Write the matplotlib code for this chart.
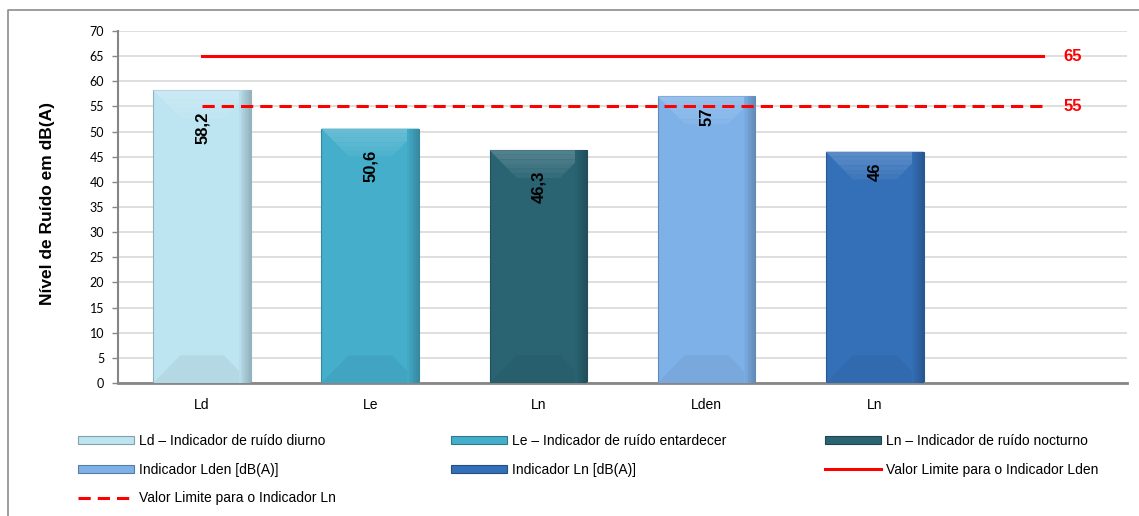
"""Noise level indicators vs. limit values (bar chart with bevelled bars)."""

import matplotlib
matplotlib.use("Agg")
from matplotlib import pyplot as plt
from matplotlib.patches import Patch, Polygon
from matplotlib.lines import Line2D
import matplotlib.colors as mcolors

plt.rcParams["font.family"] = ["Liberation Sans", "DejaVu Sans"]

# ---- data ----
categories = ["Ld", "Le", "Ln", "Lden", "Ln", ""]
values = [58.2, 50.6, 46.3, 57, 46]
value_labels = ["58,2", "50,6", "46,3", "57", "46"]
bar_colors = ["#bde4f1", "#44aecb", "#2a6473", "#7eb1e8", "#3470b8"]
bar_names = [
    "Ld \u2013 Indicador de ruído diurno",
    "Le \u2013 Indicador de ruído entardecer",
    "Ln \u2013 Indicador de ruído nocturno",
    "Indicador Lden [dB(A)]",
    "Indicador Ln [dB(A)]",
]
lden_limit = [65, 65, 65, 65, 65, 65]
ln_limit = [55, 55, 55, 55, 55, 55]
lden_limit_name = "Valor Limite para o Indicador Lden"
ln_limit_name = "Valor Limite para o Indicador Ln"

GRID = "#d9d9d9"
AXIS = "#868686"
RED = "#ff0000"
W, H = 1139, 516


def shade(color, f):
    """f > 0 lightens towards white, f < 0 darkens towards black."""
    r, g, b = mcolors.to_rgb(color)
    if f >= 0:
        return (r + (1 - r) * f, g + (1 - g) * f, b + (1 - b) * f)
    return (r * (1 + f), g * (1 + f), b * (1 + f))


def bevel(ax, x, w, h, color):
    """Paint top/bottom facets and a dark right edge over one bar."""
    left, right = x - w / 2, x + w / 2
    dx, dy = 0.16, min(5.5, h / 2)
    # top facet: a few bands, lighter towards the top edge
    n = 6
    for k in range(n):
        y0 = h - dy * k / n
        y1 = h - dy * (k + 1) / n
        x0 = dx * k / n
        x1 = dx * (k + 1) / n
        band = [(left + x0, y0), (right - x0, y0),
                (right - x1, y1), (left + x1, y1)]
        ax.add_patch(Polygon(band, closed=True, lw=0, zorder=3,
                             facecolor=shade(color, 0.16 * (1 - k / n) + 0.03)))
    bot = [(left, 0), (right, 0), (right - dx, dy), (left + dx, dy)]
    ax.add_patch(Polygon(bot, closed=True, facecolor=shade(color, -0.05),
                         lw=0, zorder=3))
    # darker strip along the right edge
    n = 8
    strip = 0.07
    for k in range(n):
        x0 = right - strip + strip * k / n
        ax.fill_between([x0, x0 + strip / n], 0, h,
                        color=shade(color, -0.03 - 0.2 * k / n),
                        lw=0, zorder=3.1)


fig = plt.figure(figsize=(W / 100, H / 100), dpi=100)
ax = fig.add_axes([118 / W, 1 - 383 / H, 1009 / W, 352 / H])

x = list(range(len(values)))
bar_w = 0.58
ax.bar(x, values, width=bar_w, color=bar_colors, zorder=2,
       edgecolor=[shade(c, -0.22) for c in bar_colors], linewidth=0.8)
for xi, v, c in zip(x, values, bar_colors):
    bevel(ax, xi, bar_w, v, c)

# value labels, rotated, just inside the bar top
for xi, v, lab in zip(x, values, value_labels):
    off = -15 if "," in lab else -8
    ax.annotate(lab, (xi, v), xytext=(0, off), textcoords="offset points",
                rotation=90, ha="center", va="top", fontsize=12,
                fontweight="bold", color="black", zorder=6)

# limit lines across all category slots
xl = list(range(len(lden_limit)))
ax.plot(xl, lden_limit, color=RED, lw=2.2, zorder=5)
ax.plot(xl, ln_limit, color=RED, lw=2.2, ls=(0, (4, 2.3)), zorder=5)
ax.annotate(str(lden_limit[-1]), (xl[-1], lden_limit[-1]), xytext=(15, 0),
            textcoords="offset points", va="center", ha="left",
            fontsize=12, fontweight="bold", color=RED)
ax.annotate(str(ln_limit[-1]), (xl[-1], ln_limit[-1]), xytext=(15, 0),
            textcoords="offset points", va="center", ha="left",
            fontsize=12, fontweight="bold", color=RED)

ax.set_xlim(-0.5, len(categories) - 0.5)
ax.set_ylim(0, 70)
ax.set_yticks(range(0, 71, 5))
ax.set_xticks(range(len(categories)))
ax.set_xticklabels(categories, fontsize=10)
ax.tick_params(axis="x", length=0, pad=11)
ax.tick_params(axis="y", length=4, width=1, color=AXIS, pad=6,
               labelsize=9)
for t in ax.get_yticklabels():
    t.set_family(["Lato", "DejaVu Sans"])

ax.grid(axis="y", color=GRID, lw=1.2, zorder=0)
ax.set_axisbelow(True)
for s in ("top", "right"):
    ax.spines[s].set_visible(False)
ax.spines["left"].set_color(AXIS)
ax.spines["bottom"].set_color(AXIS)
ax.spines["left"].set_linewidth(1.5)
ax.spines["bottom"].set_linewidth(2)

ax.set_ylabel("Nível de Ruído em dB(A)", fontsize=12.5, fontweight="bold")
ax.yaxis.set_label_coords(-63 / 1009, 0.51)

# legend laid out as three columns, filled row by row
bar_handles = [Patch(facecolor=c, edgecolor=shade(c, -0.3), lw=0.8)
               for c in bar_colors]
lden_h = Line2D([], [], color=RED, lw=2.2)
ln_h = Line2D([], [], color=RED, lw=2.2, ls=(0, (4, 2.3)))
columns = [
    ([bar_handles[0], bar_handles[3], ln_h],
     [bar_names[0], bar_names[3], ln_limit_name], 78),
    ([bar_handles[1], bar_handles[4]], [bar_names[1], bar_names[4]], 451),
    ([bar_handles[2], lden_h], [bar_names[2], lden_limit_name], 825),
]
for hs, ls, x0 in columns:
    fig.legend(hs, ls, loc="upper left", bbox_to_anchor=(x0 / W, 1 - 434 / H),
               frameon=False, fontsize=10, handlelength=4.0,
               handleheight=0.5, handletextpad=0.4, labelspacing=1.05,
               borderpad=0, borderaxespad=0)

# outer chart frame
fig.add_artist(Line2D([8 / W, 8 / W, 1], [0, 1 - 10 / H, 1 - 10 / H],
                      transform=fig.transFigure, color="#8c8c8c", lw=1.2))

fig.savefig("out.png", dpi=100)
